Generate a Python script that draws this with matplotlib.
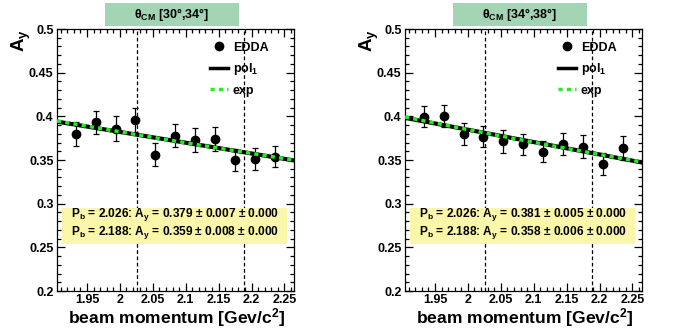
import numpy as np
import matplotlib
matplotlib.use("Agg")
import matplotlib.pyplot as plt
from matplotlib.patches import Rectangle
from matplotlib.lines import Line2D
from matplotlib.ticker import MultipleLocator, FuncFormatter

plt.rcParams['font.family'] = ['Liberation Sans', 'DejaVu Sans']
plt.rcParams['font.weight'] = 'bold'
plt.rcParams['mathtext.fontset'] = 'custom'
plt.rcParams['mathtext.rm'] = 'Liberation Sans:bold'
plt.rcParams['mathtext.bf'] = 'Liberation Sans:bold'
plt.rcParams['mathtext.it'] = 'Liberation Sans:bold'

# ==== data ====
p_beam = [1.934, 1.964, 1.9945, 2.023, 2.054, 2.084, 2.114, 2.145, 2.175, 2.206, 2.236]

ay_30_34 = [0.380, 0.393, 0.386, 0.396, 0.356, 0.378, 0.373, 0.374, 0.350, 0.3515, 0.354]
err_30_34 = [0.014, 0.0135, 0.014, 0.014, 0.013, 0.013, 0.014, 0.014, 0.013, 0.0125, 0.0125]

ay_34_38 = [0.3995, 0.4005, 0.380, 0.3767, 0.3713, 0.368, 0.3595, 0.368, 0.3652, 0.345, 0.364]
err_34_38 = [0.012, 0.0125, 0.0127, 0.012, 0.0128, 0.012, 0.012, 0.0125, 0.013, 0.0125, 0.0137]

# fit parameters: pol1 = p0 + p1*x ; exp = A*exp(b*x)
pol1_30_34 = (0.6291, -0.12346)
exp_30_34 = (0.7467, -0.3347)
pol1_34_38 = (0.6687, -0.14198)
exp_34_38 = (0.8301, -0.38436)

pb_marks = [2.026, 2.188]
res_30_34 = ["0.379 ± 0.007 ± 0.000", "0.359 ± 0.008 ± 0.000"]
res_34_38 = ["0.381 ± 0.005 ± 0.000", "0.358 ± 0.006 ± 0.000"]
titles = ["30°,34°", "34°,38°"]

panels = [
    (ay_30_34, err_30_34, pol1_30_34, exp_30_34, res_30_34, titles[0]),
    (ay_34_38, err_34_38, pol1_34_38, exp_34_38, res_34_38, titles[1]),
]

XMIN, XMAX = 1.9045, 2.2645

fig = plt.figure(figsize=(6.96, 3.34), dpi=100)
lefts = [57 / 696, 405 / 696]

for (ay, err, pol, ex, res, ttl), left in zip(panels, lefts):
    ax = fig.add_axes([left, 0.1287, 0.3405, 0.7844])
    ax.set_xlim(XMIN, XMAX)
    ax.set_ylim(0.2, 0.5)

    for pb in pb_marks:
        ax.axvline(pb, color="black", lw=0.9, ls=(0, (3, 2)), zorder=1)

    ax.errorbar(p_beam, ay, yerr=err, fmt="o", color="black", ms=6,
                elinewidth=0.9, capsize=2.5, capthick=0.9, zorder=3)

    xx = np.linspace(XMIN, XMAX, 200)
    ax.plot(xx, pol[0] + pol[1] * xx, color="black", lw=3, zorder=4)
    ax.plot(xx, ex[0] * np.exp(ex[1] * xx), color="#22ee22", lw=2.5,
            ls=(0, (1.2, 1.2)), zorder=5)

    # ticks, ROOT style
    ax.xaxis.set_major_locator(MultipleLocator(0.05))
    ax.xaxis.set_minor_locator(MultipleLocator(0.01))
    ax.yaxis.set_major_locator(MultipleLocator(0.05))
    ax.yaxis.set_minor_locator(MultipleLocator(0.01))
    fmt = FuncFormatter(lambda v, p: "%g" % round(v, 3))
    ax.xaxis.set_major_formatter(fmt)
    ax.yaxis.set_major_formatter(fmt)
    ax.tick_params(which="both", direction="in", top=True, right=True,
                   labelsize=9, width=0.9)
    ax.tick_params(which="major", length=6, pad=2.5)
    ax.tick_params(which="minor", length=3)
    for sp in ax.spines.values():
        sp.set_linewidth(0.9)

    ax.text(0.965, -0.125, r"beam momentum [Gev/c$^\mathbf{2}$]", transform=ax.transAxes,
            ha="right", va="baseline", fontsize=12.6, fontweight="bold")
    ax.text(-0.15, 1.0, r"A$_\mathbf{y}$", transform=ax.transAxes, rotation=90,
            ha="center", va="top", fontsize=13.5, fontweight="bold")

    # legend
    handles = [
        Line2D([], [], marker="o", ls="none", color="black", ms=6),
        Line2D([], [], color="black", lw=2.5),
        Line2D([], [], color="#22ee22", lw=2.5, ls=(0, (1.2, 1.2))),
    ]
    ax.legend(handles, ["EDDA", r"pol$_\mathbf{1}$", "exp"], loc="upper left",
              bbox_to_anchor=(0.61, 0.985), frameon=False, fontsize=9,
              handlelength=1.4, handletextpad=0.4, labelspacing=0.6,
              borderaxespad=0.3)

    # results box
    ax.add_patch(Rectangle((0.021, 0.179), 0.949, 0.138, transform=ax.transAxes,
                           facecolor="#faf6aa", edgecolor="none", zorder=2))
    for pb, r, yy in zip(pb_marks, res, [0.293, 0.222]):
        ax.text(0.058, yy, r"P$_\mathbf{b}$ = %.3f: A$_\mathbf{y}$ = %s" % (pb, r),
                transform=ax.transAxes, ha="left", va="center", fontsize=8.6,
                fontweight="bold", zorder=6)

    # title box
    ax.add_patch(Rectangle((0.2025, 1.0115), 0.5655, 0.0875, transform=ax.transAxes,
                           facecolor="#a3d4b3", edgecolor="none", clip_on=False))
    ax.text(0.485, 1.055, r"θ$_\mathbf{CM}$ [%s]" % ttl, transform=ax.transAxes,
            ha="center", va="center", fontsize=9, fontweight="bold")

fig.savefig("out.png", dpi=100)
